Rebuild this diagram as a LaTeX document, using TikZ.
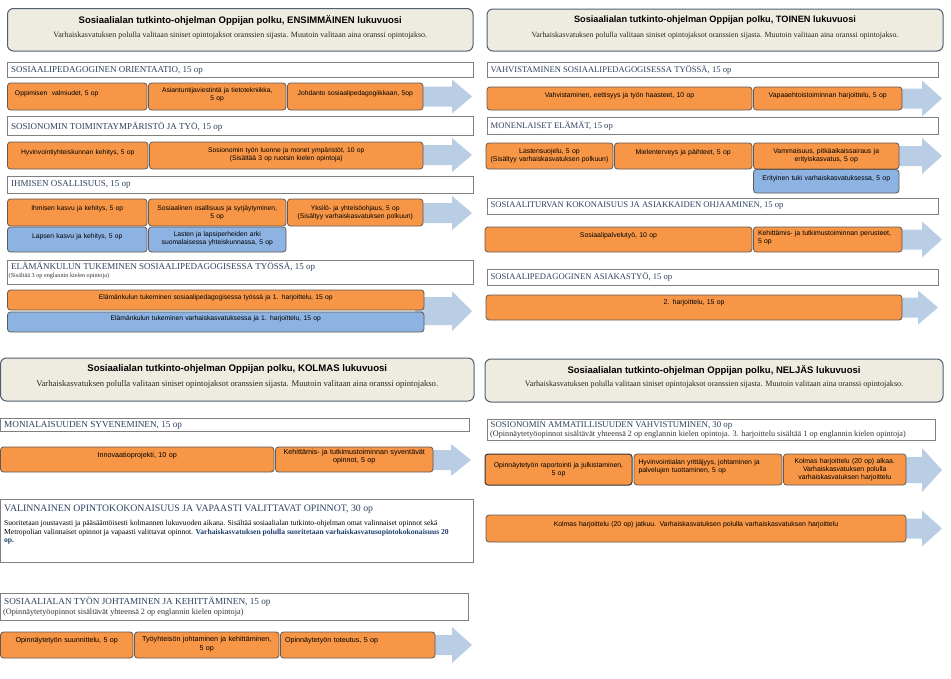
\documentclass[tikz,border=0pt]{standalone}
\usepackage{fontspec}
\setmainfont{Liberation Serif}
\newfontfamily\arialf{Liberation Sans}
\definecolor{orng}{HTML}{F79646}
\definecolor{blu}{HTML}{8DB3E2}
\definecolor{arr}{HTML}{B9CDE5}
\definecolor{tfill}{HTML}{EEECE1}
\definecolor{tline}{HTML}{4F5F70}
\definecolor{bline}{HTML}{5F5A55}
\definecolor{hline}{HTML}{808080}
\definecolor{htext}{HTML}{2E4160}
\definecolor{vbold}{HTML}{1F3F6E}
\def\ttlsz{9.5}\def\subsz{8}\def\hdsz{9}\def\bxsz{6.75}
\newcommand\bx[9][center]{%
  \pgfmathsetmacro\bxw{(#6)-(#4)}%
  \pgfmathsetmacro\bxh{(#7)-(#5)}%
  \pgfmathsetmacro\bxtw{(#6)-(#4)-9}%
  \pgfmathsetmacro\bxcx{((#4)+(#6))/2}%
  \pgfmathsetmacro\bxcy{((#5)+(#7))/2}%
  \pgfmathsetmacro\bxty{((#5)+(#7))/2-(#8)}%
  \pgfmathsetmacro\bxls{\bxsz*1.15}%
  \node[#3, minimum width=\bxw pt, minimum height=\bxh pt] (#2) at (\bxcx,\bxcy) {};
  \node[btxt, font=\arialf\fontsize{\bxsz}{\bxls}\selectfont, text width=\bxtw pt, align=#1] (#2t) at (\bxcx,\bxty) {#9};}
\newcommand\hd[7]{%
  \pgfmathsetmacro\hdw{(#4)-(#2)}%
  \pgfmathsetmacro\hdh{(#5)-(#3)}%
  \pgfmathsetmacro\hdcx{((#2)+(#4))/2}%
  \pgfmathsetmacro\hdcy{((#3)+(#5))/2}%
  \pgfmathsetmacro\hdtx{(#2)+3.5}%
  \node[hbox, minimum width=\hdw pt, minimum height=\hdh pt] (#1) at (\hdcx,\hdcy) {};
  \node[htxt, font=\fontsize{\hdsz}{10}\selectfont] (#1t) at (\hdtx,#6) {#7};}
\newcommand\tb[8]{%
  \pgfmathsetmacro\tbw{(#4)-(#2)}%
  \pgfmathsetmacro\tbh{(#5)-(#3)}%
  \pgfmathsetmacro\tbcx{((#2)+(#4))/2}%
  \pgfmathsetmacro\tbcy{((#3)+(#5))/2}%
  \node[tbox, minimum width=\tbw pt, minimum height=\tbh pt] (#1) at (\tbcx,\tbcy) {};
  \node[ttl, font=\arialf\bfseries\fontsize{\ttlsz}{11}\selectfont] (#1t) at (\tbcx,#6) {#8};
  \node[tsub, font=\fontsize{\subsz}{9}\selectfont] (#1s) at (\tbcx,#7) {Varhaiskasvatuksen polulla valitaan siniset opintojaksot oranssien sijasta. Muutoin valitaan aina oranssi opintojakso.};}
\newcommand\arw[6]{%
  \fill[arrw] ({#1},{#4-#5}) -- ({#2},{#4-#5}) -- ({#2},{#4-#6}) -- ({#3},{#4}) -- ({#2},{#4+#6}) -- ({#2},{#4+#5}) -- ({#1},{#4+#5}) -- cycle;}
\begin{document}
\begin{tikzpicture}[x=1pt,y=-1pt,
  box/.style={draw=bline, line width=0.8pt, rounded corners=3pt, inner sep=0pt},
  ob/.style={box, fill=orng},
  bb/.style={box, fill=blu},
  btxt/.style={inner sep=0pt, text=black},
  hbox/.style={draw=hline, line width=0.7pt, fill=white, inner sep=0pt},
  htxt/.style={text=htext, inner sep=0pt, anchor=west},
  hsub/.style={text=black!80, inner sep=0pt, anchor=west},
  tbox/.style={draw=tline, line width=1pt, fill=tfill, rounded corners=6pt, inner sep=0pt},
  ttl/.style={inner sep=0pt},
  tsub/.style={inner sep=0pt, text=black!85},
  arrw/.style={fill=arr}]
\fill[white] (0,0) rectangle (951,678);
\useasboundingbox (0,0) rectangle (951,678);

% ---------- arrows ----------
\arw{415}{452}{472}{96.5}{10}{17}
\arw{415}{452}{472}{155}{10}{17}
\arw{415}{452}{472}{213}{10}{17}
\arw{415}{452}{472}{311}{14}{20}
\arw{895}{922}{942}{98.5}{10}{18}
\arw{890}{922}{942}{156}{10}{18}
\arw{895}{922}{942}{239.5}{10}{18}
\arw{895}{918}{938}{307.5}{10}{17}
\arw{425}{451}{471}{460}{10}{16}
\arw{428}{452}{472}{645}{10}{18}
\arw{900}{922}{942}{470}{13}{22}
\arw{900}{922}{942}{528.5}{10}{18}

% ---------- Q1 ----------
\def\ttlsz{9.5}\def\subsz{8}\def\hdsz{9}\def\bxsz{6.75}
\tb{t1}{7.5}{8.5}{473}{51}{20}{36}{Sosiaalialan tutkinto-ohjelman Oppijan polku, ENSIMMÄINEN lukuvuosi}
\hd{h11}{7.5}{62}{473}{77}{70}{SOSIAALIPEDAGOGINEN ORIENTAATIO, 15 op}
\bx[left]{a11}{ob}{7.5}{83}{147}{110}{3}{\hspace*{3pt}Oppimisen\ \ valmiudet, 5 op}
\bx{a12}{ob}{148.5}{83}{286}{110}{1.5}{Asiantuntijaviestintä ja tietotekniikka,\\5 op}
\bx{a13}{ob}{287.5}{83}{423}{110}{3}{Johdanto sosiaalipedagogiikkaan, 5op}
\hd{h12}{7.5}{116}{473}{135}{126.5}{SOSIONOMIN TOIMINTAYMPÄRISTÖ JA TYÖ, 15 op}
\bx{a21}{ob}{7.5}{142}{148}{169}{3}{Hyvinvointiyhteiskunnan kehitys, 5 op}
\bx{a22}{ob}{149.5}{142}{423}{169}{0.5}{Sosionomin työn luonne ja monet ympäristöt, 10 op\\(Sisältää 3 op ruotsin kielen opintoja)}
\hd{h13}{7.5}{176}{473}{193}{184.5}{IHMISEN OSALLISUUS, 15 op}
\bx{a31}{ob}{7.5}{199}{147}{226}{3.5}{Ihmisen kasvu ja kehitys, 5 op}
\bx{a32}{ob}{148.5}{199}{286}{226}{0}{Sosiaalinen osallisuus ja syrjäytyminen,\\5 op}
\bx{a33}{ob}{287.5}{199}{423}{226}{0}{Yksilö- ja yhteisöohjaus, 5 op\\(Sisältyy varhaiskasvatuksen polkuun)}
\bx{a34}{bb}{7.5}{227}{147}{252}{2.5}{Lapsen kasvu ja kehitys, 5 op}
\bx{a35}{bb}{148.5}{227}{286}{252}{0.5}{Lasten ja lapsiperheiden arki\\suomalaisessa yhteiskunnassa, 5 op}
\hd{h14}{7.5}{260}{473}{284}{267}{ELÄMÄNKULUN TUKEMINEN SOSIAALIPEDAGOGISESSA TYÖSSÄ, 15 op}
\node[hsub, font=\fontsize{6.2}{7}\selectfont] (h14s) at (8.5,276.5) {(Sisältää 3 op englannin kielen opintoja)};
\bx{a41}{ob}{7.5}{290}{424}{310}{2}{Elämänkulun tukeminen sosiaalipedagogisessa työssä ja 1. harjoittelu, 15 op}
\bx{a42}{bb}{7.5}{312}{424}{332}{3}{Elämänkulun tukeminen varhaiskasvatuksessa ja 1. harjoittelu, 15 op}

% ---------- Q2 ----------
\def\ttlsz{9.2}\def\subsz{7.85}\def\hdsz{8.6}\def\bxsz{6.9}
\tb{t2}{487}{9}{943}{51}{20}{36}{Sosiaalialan tutkinto-ohjelman Oppijan polku, TOINEN lukuvuosi}
\hd{h21}{487}{62}{938}{77}{70}{VAHVISTAMINEN SOSIAALIPEDAGOGISESSA TYÖSSÄ, 15 op}
\bx{b11}{ob}{487}{87}{752}{110}{3}{Vahvistaminen, eettisyys ja työn haasteet, 10 op}
\bx{b12}{ob}{753.5}{87}{902}{110}{3}{Vapaaehtoistoiminnan harjoittelu, 5 op}
\hd{h22}{487}{117}{938}{134}{126}{MONENLAISET ELÄMÄT, 15 op}
\bx{b21}{ob}{486}{143}{613}{169}{0.5}{Lastensuojelu, 5 op\\(Sisältyy varhaiskasvatuksen polkuun)}
\bx{b22}{ob}{614.5}{143}{752}{169}{3}{Mielenterveys ja päihteet, 5 op}
\bx{b23}{ob}{753.5}{143}{899}{169}{0.5}{Vammaisuus, pitkäaikaissairaus ja\\erityiskasvatus, 5 op}
\bx{b24}{bb}{753.5}{169.5}{899}{193}{3}{Erityinen tuki varhaiskasvatuksessa, 5 op}
\hd{h23}{487}{198}{938}{214}{206}{SOSIAALITURVAN KOKONAISUUS JA ASIAKKAIDEN OHJAAMINEN, 15 op}
\bx{b31}{ob}{485}{227}{752}{252}{3.5}{Sosiaalipalvelutyö, 10 op}
\bx[left]{b32}{ob}{753.5}{227}{902}{252}{1.5}{Kehittämis- ja tutkimustoiminnan perusteet,\\5 op}
\hd{h24}{487}{269}{938}{285}{277}{SOSIAALIPEDAGOGINEN ASIAKASTYÖ, 15 op}
\bx{b41}{ob}{486}{295}{902}{320}{5}{2. harjoittelu, 15 op}

% ---------- Q3 ----------
\def\ttlsz{9.6}\def\subsz{8.6}\def\hdsz{9.2}\def\bxsz{7.2}
\tb{t3}{0.5}{358}{474}{401}{369}{384}{Sosiaalialan tutkinto-ohjelman Oppijan polku, KOLMAS lukuvuosi}
\hd{h31}{0.5}{418}{469}{431}{425}{MONIALAISUUDEN SYVENEMINEN, 15 op}
\bx{c11}{ob}{0.5}{447}{274}{472}{3.5}{Innovaatioprojekti, 10 op}
\bx{c12}{ob}{275.5}{447}{433}{472}{3}{Kehittämis- ja tutkimustoiminnan syventävät\\opinnot, 5 op}
\def\hdsz{9.8}
\hd{h32}{0.5}{499}{473}{562}{509}{VALINNAINEN OPINTOKOKONAISUUS JA VAPAASTI VALITTAVAT OPINNOT, 30 op}
\node[anchor=north west, font=\fontsize{7.6}{8.3}\selectfont, align=left, inner sep=0pt] (h32p) at (4,520.5) {Suoritetaan joustavasti ja pääsääntöisesti kolmannen lukuvuoden aikana. Sisältää sosiaalialan tutkinto-ohjelman omat valinnaiset opinnot sekä\\Metropolian valinnaiset opinnot ja vapaasti valittavat opinnot. \textcolor{vbold}{\bfseries Varhaiskasvatuksen polulla suoritetaan varhaiskasvatusopintokokonaisuus 20}\\\textcolor{vbold}{\bfseries op.}};
\def\hdsz{9.2}
\hd{h33}{0.5}{593}{468}{620}{602}{SOSIAALIALAN TYÖN JOHTAMINEN JA KEHITTÄMINEN, 15 op}
\node[hsub, font=\fontsize{8.2}{9}\selectfont] (h33s) at (3,612.5) {(Opinnäytetyöopinnot sisältävät yhteensä 2 op englannin kielen opintoja)};
\bx{c21}{ob}{0.5}{632}{133}{658}{4}{Opinnäytetyön suunnittelu, 5 op}
\bx{c22}{ob}{134.5}{632}{279}{658}{1}{Työyhteisön johtaminen ja kehittäminen,\\5 op}
\bx[left]{c23}{ob}{280.5}{632}{435}{658}{4}{Opinnäytetyön toteutus, 5 op}

% ---------- Q4 ----------
\def\ttlsz{9.5}\def\subsz{8.1}\def\hdsz{8.8}\def\bxsz{6.9}
\tb{t4}{485}{359}{943}{402}{370}{385}{Sosiaalialan tutkinto-ohjelman Oppijan polku, NELJÄS lukuvuosi}
\hd{h41}{487}{419}{935}{440}{426}{SOSIONOMIN AMMATILLISUUDEN VAHVISTUMINEN, 30 op}
\node[hsub, font=\fontsize{8.2}{9}\selectfont] (h41s) at (490,435) {(Opinnäytetyöopinnot sisältävät yhteensä 2 op englannin kielen opintoja. 3. harjoittelu sisältää 1 op englannin kielen opintoja)};
\bx{d11}{ob, draw=black!80, line width=1pt}{485}{454}{632}{485}{0}{Opinnäytetyön raportointi ja julkistaminen,\\5 op}
\bx[left]{d12}{ob}{634}{454}{782}{485}{2.5}{Hyvinvointialan yrittäjyys, johtaminen ja\\palvelujen tuottaminen, 5 op}
\bx{d13}{ob}{783.5}{454}{906}{485}{0}{Kolmas harjoittelu (20 op) alkaa.\\Varhaiskasvatuksen polulla\\varhaiskasvatuksen harjoittelu}
\bx{d21}{ob}{486}{515}{906}{542}{3.5}{Kolmas harjoittelu (20 op) jatkuu. Varhaiskasvatuksen polulla varhaiskasvatuksen harjoittelu}
\end{tikzpicture}
\end{document}
